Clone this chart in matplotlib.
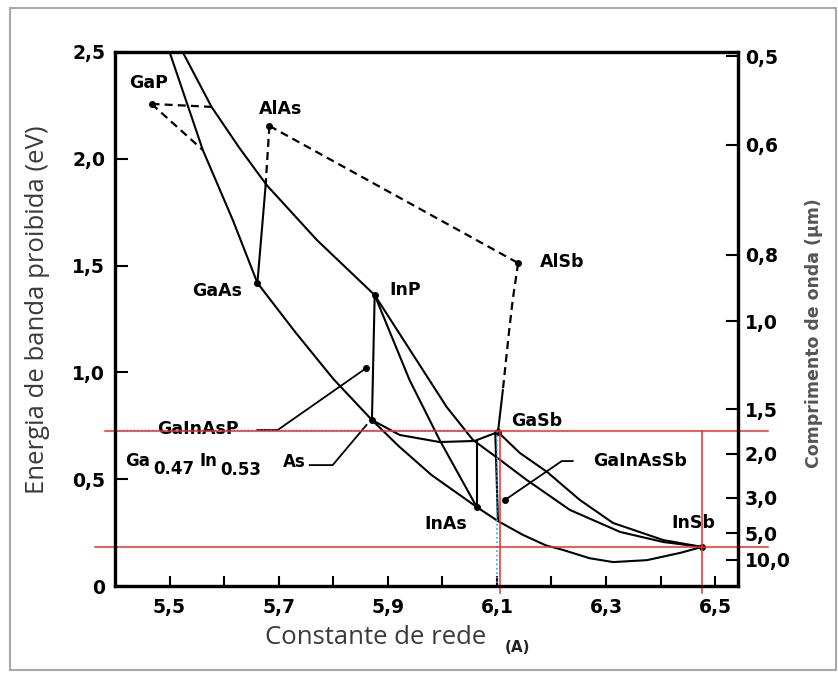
import numpy as np
import matplotlib.pyplot as plt
from matplotlib.patches import Rectangle

# ---- values: lattice constant (A) vs band gap (eV) ----
gaasp_x = [5.500, 5.561, 5.616, 5.661]
gaasp_y = [2.500, 2.041, 1.713, 1.419]

gainp_x = [5.524, 5.577, 5.628, 5.678, 5.770, 5.876]
gainp_y = [2.500, 2.243, 2.051, 1.877, 1.620, 1.362]

gainas_x = [5.661, 5.730, 5.800, 5.871, 5.920, 5.980, 6.063]
gainas_y = [1.419, 1.190, 0.970, 0.777, 0.655, 0.520, 0.370]

algaas_x = [5.661, 5.676]
algaas_y = [1.419, 1.872]
algaas_ind_x = [5.676, 5.683]
algaas_ind_y = [1.872, 2.154]

alas_alsb_x = [5.683, 6.139]
alas_alsb_y = [2.154, 1.512]

alsb_gasb_x = [6.139, 6.129, 6.122, 6.111]
alsb_gasb_y = [1.512, 1.339, 1.184, 0.918]
alsb_gasb_dir_x = [6.111, 6.102]
alsb_gasb_dir_y = [0.918, 0.721]

gap_h_x = [5.467, 5.577]
gap_h_y = [2.257, 2.243]
gap_d_x = [5.467, 5.561]
gap_d_y = [2.257, 2.041]

inp_match_x = [5.876, 5.871]
inp_match_y = [1.362, 0.777]

dip_x = [5.871, 5.922, 5.995, 6.059, 6.102]
dip_y = [0.777, 0.707, 0.674, 0.679, 0.721]

inasp_x = [5.876, 5.940, 5.995, 6.063]
inasp_y = [1.362, 0.964, 0.684, 0.370]

inpsb_x = [5.876, 6.008, 6.056, 6.106, 6.155, 6.234, 6.326, 6.405, 6.476]
inpsb_y = [1.362, 0.838, 0.684, 0.590, 0.496, 0.356, 0.253, 0.206, 0.183]

gainsb_x = [6.102, 6.142, 6.192, 6.252, 6.313, 6.405, 6.476]
gainsb_y = [0.721, 0.623, 0.534, 0.403, 0.295, 0.215, 0.183]

inassb_x = [6.063, 6.102, 6.148, 6.190, 6.221, 6.270, 6.313, 6.375, 6.436, 6.476]
inassb_y = [0.370, 0.304, 0.239, 0.190, 0.169, 0.130, 0.112, 0.121, 0.155, 0.183]

inas_v_x = [6.063, 6.063]
inas_v_y = [0.370, 0.679]
gasb_v_x = [6.097, 6.102]
gasb_v_y = [0.721, 0.304]

# binary compounds
names = ['GaP', 'AlAs', 'GaAs', 'InP', 'AlSb', 'GaSb', 'InAs', 'InSb']
comp_a = [5.467, 5.683, 5.661, 5.876, 6.139, 6.102, 6.063, 6.476]
comp_eg = [2.257, 2.154, 1.419, 1.362, 1.512, 0.721, 0.370, 0.183]
label_off = [(-2, 15), (8, 12), (-29, -6), (22, 4), (32, 1), (28, 8), (-22, -12), (-6, 17)]

# alloy points marked on the figure
gainasp_pt = (5.861, 1.021)
gainas_pt = (5.871, 0.777)
gainassb_pt = (6.115, 0.403)

# reference levels (red guides)
eg_gasb = 0.725
eg_insb = 0.183
a_gasb = 6.106
a_insb = 6.476

# axes ticks
x_ticks = [5.5, 5.6, 5.7, 5.8, 5.9, 6.0, 6.1, 6.2, 6.3, 6.4, 6.5]
x_labels = ['5,5', '', '5,7', '', '5,9', '', '6,1', '', '6,3', '', '6,5']
y_ticks = [0, 0.5, 1.0, 1.5, 2.0, 2.5]
y_labels = ['0', '0,5', '1,0', '1,5', '2,0', '2,5']
wl = np.array([0.5, 0.6, 0.8, 1.0, 1.5, 2.0, 3.0, 5.0, 10.0])
wl_labels = ['0,5', '0,6', '0,8', '1,0', '1,5', '2,0', '3,0', '5,0', '10,0']

W, H = 838, 673
fig = plt.figure(figsize=(W / 100, H / 100), dpi=100)
fig.patches.append(Rectangle((10 / W, 3 / H), 826 / W, 662 / H, transform=fig.transFigure,
                             fill=False, edgecolor='#a8a8a8', lw=1.5))
ax = fig.add_axes([115 / W, 1 - 586 / H, (738 - 115) / W, (586 - 52) / H])
ax.set_xlim(5.4, 6.542)
ax.set_ylim(0, 2.5)

lw = 1.5
solid = dict(color='black', lw=lw, solid_capstyle='round')
dashed = dict(color='black', lw=1.6, dashes=(3.6, 2.3))

for xs, ys in [(gaasp_x, gaasp_y), (gainp_x, gainp_y), (gainas_x, gainas_y),
               (algaas_x, algaas_y), (alsb_gasb_dir_x, alsb_gasb_dir_y),
               (inp_match_x, inp_match_y), (dip_x, dip_y), (inasp_x, inasp_y),
               (inpsb_x, inpsb_y), (gainsb_x, gainsb_y), (inassb_x, inassb_y),
               (inas_v_x, inas_v_y), (gasb_v_x, gasb_v_y)]:
    ax.plot(xs, ys, **solid)

for xs, ys in [(algaas_ind_x, algaas_ind_y), (alas_alsb_x, alas_alsb_y),
               (alsb_gasb_x, alsb_gasb_y), (gap_h_x, gap_h_y), (gap_d_x, gap_d_y)]:
    ax.plot(xs, ys, **dashed)

ax.plot(comp_a, comp_eg, 'o', color='black', ms=4)

lab = dict(ha='center', va='center', fontsize=12.5, fontweight='bold')
for n, a, e, off in zip(names, comp_a, comp_eg, label_off):
    ax.annotate(n, (a, e), xytext=off, textcoords='offset points', **lab)

# GaInAsP
ax.plot([5.661, 5.698, gainasp_pt[0]], [0.730, 0.730, gainasp_pt[1]], color='black', lw=1.3)
ax.plot(*gainasp_pt, 'o', color='black', ms=4)
ax.annotate('GaInAsP', gainasp_pt, xytext=(-169, -61), textcoords='offset pixels', **lab)

# Ga0.47In0.53As
ax.plot([5.757, 5.799, 5.861], [0.566, 0.566, 0.754], color='black', lw=1.3)
ax.plot(*gainas_pt, 'o', color='black', ms=4)
parts = [('Ga', 125, 461), ('0.47', 153, 469), ('In', 199, 461), ('0.53', 220, 470), ('As', 283, 462)]
for s, px, py in parts:
    fig.text(px / W, 1 - py / H, s, ha='left', va='center', fontsize=12, fontweight='bold')

# GaInAsSb
ax.plot([6.239, 6.219, gainassb_pt[0]], [0.585, 0.585, gainassb_pt[1]], color='black', lw=1.3)
ax.plot(*gainassb_pt, 'o', color='black', ms=4)
ax.annotate('GaInAsSb', gainassb_pt, xytext=(135, 39), textcoords='offset pixels', **lab)

# guides
ax.plot([5.4, a_gasb - 0.006], [eg_gasb + 0.004, eg_gasb + 0.004], color='#3aa0e8', lw=1, ls=':')
ax.plot([a_gasb - 0.006, a_gasb - 0.006], [eg_gasb, 0], color='#3aa0e8', lw=1.2, ls=':')
red = dict(color='#ee2b2b', lw=1.1, clip_on=False, zorder=5)
ax.plot([5.381, 6.597], [eg_gasb, eg_gasb], **red)
ax.plot([5.364, 6.597], [eg_insb, eg_insb], **red)
ax.plot([a_gasb, a_gasb], [eg_gasb, -0.033], **red)
ax.plot([a_insb, a_insb], [eg_gasb, -0.033], **red)

for s in ax.spines.values():
    s.set_linewidth(2.3)
ax.set_xticks(x_ticks)
ax.set_xticklabels(x_labels, fontsize=13.5, fontweight='bold')
ax.set_yticks(y_ticks)
ax.set_yticklabels(y_labels, fontsize=13.5, fontweight='bold')
ax.tick_params(axis='x', direction='in', length=7, width=1.5, pad=9)
ax.tick_params(axis='y', direction='in', length=9.5, width=1.5, pad=7)

ax2 = ax.twinx()
ax2.set_ylim(0, 2.5)
ax2.set_yticks(1.24 / wl)
ax2.set_yticklabels(wl_labels, fontsize=13.5, fontweight='bold')
ax2.tick_params(axis='y', direction='in', length=8.5, width=1.5, pad=5)
for s in ax2.spines.values():
    s.set_linewidth(2.3)

txt = '#3a3a3a'
fig.text(37 / W, 1 - 310 / H, 'Energia de banda proibida (eV)', rotation=90, ha='center',
         va='center', fontsize=18.5, family='Open Sans', color=txt)
fig.text(376 / W, 1 - 638 / H, 'Constante de rede', ha='center', va='center',
         fontsize=18.5, family='Open Sans', color=txt)
fig.text(517 / W, 1 - 647 / H, '(A)', ha='center', va='center', fontsize=11, fontweight='bold',
         color='#222222')
fig.text(814 / W, 1 - 333 / H, 'Comprimento de onda (µm)', rotation=90, ha='center',
         va='center', fontsize=12.5, fontweight='bold', color='#555555')

fig.savefig('out.png', dpi=100)
